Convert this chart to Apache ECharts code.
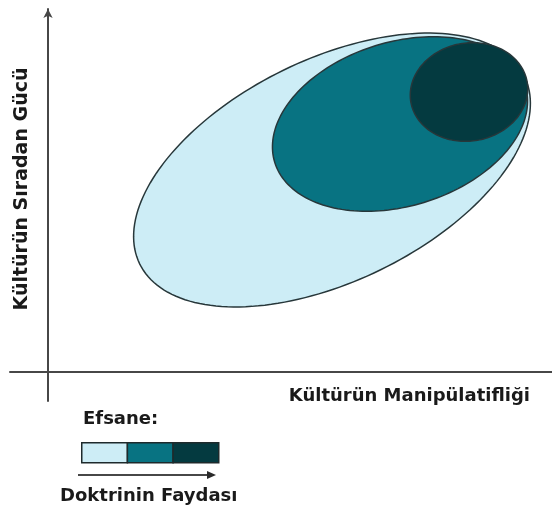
<!DOCTYPE html>
<html>
<head>
<meta charset="utf-8">
<script src="https://cdn.jsdelivr.net/npm/echarts@6/dist/echarts.min.js"></script>
<style>html,body{margin:0;padding:0;background:#fff}#main{width:552px;height:521px}</style>
</head>
<body>
<div id="main"></div>
<script>
// ---- data (conceptual units, origin at the axis crossing) ----
const ellipseNames = ['Düşük', 'Orta', 'Yüksek'];
const centerX = [284, 352, 421];
const centerY = [202, 248, 280];
const radiusA = [214, 131, 59];
const radiusB = [111, 82, 49];
const tiltDeg = [26, 17, 10];
const xAxisTitle = 'Kültürün Manipülatifliği';
const yAxisTitle = 'Kültürün Sıradan Gücü';
const legendTitle = 'Efsane:';
const legendCaption = 'Doktrinin Faydası';

// ---- styles ----
const palette = ['#cdedf6', '#087382', '#043a40'];
const FONT = 'DejaVu Sans';
const TEXT = '#1a1a1a';
const AXIS = '#474747';

const ellipseData = ellipseNames.map((n, i) => ({
  name: n,
  value: [centerX[i], centerY[i], radiusA[i], radiusB[i], tiltDeg[i]]
}));

function renderEllipse(params, api) {
  const cx = api.value(0), cy = api.value(1), a = api.value(2), b = api.value(3);
  const th = api.value(4) * Math.PI / 180;
  const pts = [];
  const N = 180;
  for (let k = 0; k < N; k++) {
    const t = 2 * Math.PI * k / N;
    const x = cx + a * Math.cos(t) * Math.cos(th) - b * Math.sin(t) * Math.sin(th);
    const y = cy + a * Math.cos(t) * Math.sin(th) + b * Math.sin(t) * Math.cos(th);
    pts.push(api.coord([x, y]));
  }
  return {
    type: 'polygon',
    shape: { points: pts },
    style: { fill: palette[params.dataIndex], stroke: '#27373a', lineWidth: 1.5 }
  };
}

const legX = 81, legY = 442, legW = 137, legH = 20;
const segW = legW / palette.length;
const legendGraphics = [];
palette.forEach((c, i) => {
  legendGraphics.push({
    type: 'rect', left: legX + i * segW, top: legY,
    shape: { width: segW, height: legH },
    style: { fill: c, stroke: '#1e2a2c', lineWidth: 1.5 }
  });
});
legendGraphics.push(
  { type: 'text', left: 83, top: 410,
    style: { text: legendTitle, fill: TEXT, font: 'bold 18px "' + FONT + '"' } },
  { type: 'line', shape: { x1: 78, y1: 475, x2: 209, y2: 475 },
    style: { stroke: AXIS, lineWidth: 2 } },
  { type: 'polygon', shape: { points: [[207, 471], [216, 475], [207, 479]] },
    style: { fill: '#2a2a2a' } },
  { type: 'text', left: 60, top: 487,
    style: { text: legendCaption, fill: TEXT, font: 'bold 18px "' + FONT + '"' } },
  { type: 'text', x: 22, y: 189, rotation: Math.PI / 2,
    style: { text: yAxisTitle, fill: TEXT, font: 'bold 19px "' + FONT + '"',
      align: 'center', verticalAlign: 'middle' } }
);

const chart = echarts.init(document.getElementById('main'), null, { renderer: 'canvas' });
chart.setOption({
  animation: false,
  backgroundColor: '#ffffff',
  grid: { left: 10, right: 0, top: 9, bottom: 120, containLabel: false, outerBoundsMode: 'none' },
  xAxis: {
    type: 'value', min: -38, max: 504,
    axisLine: { onZero: true, lineStyle: { color: AXIS, width: 2 } },
    axisTick: { show: false }, axisLabel: { show: false }, splitLine: { show: false },
    name: xAxisTitle, nameLocation: 'end', nameGap: -22,
    nameTextStyle: { fontFamily: FONT, fontWeight: 'bold', fontSize: 18, color: TEXT,
      align: 'right', verticalAlign: 'top', padding: [15, 0, 0, 0] }
  },
  yAxis: {
    type: 'value', min: -29, max: 363,
    axisLine: { onZero: true, symbol: ['none', 'arrow'], symbolSize: [7, 9],
      lineStyle: { color: AXIS, width: 2 } },
    axisTick: { show: false }, axisLabel: { show: false }, splitLine: { show: false }
  },
  series: [{
    type: 'custom',
    renderItem: renderEllipse,
    data: ellipseData,
    encode: { x: 0, y: 1 },
    silent: true
  }],
  graphic: legendGraphics
});
</script>
</body>
</html>
